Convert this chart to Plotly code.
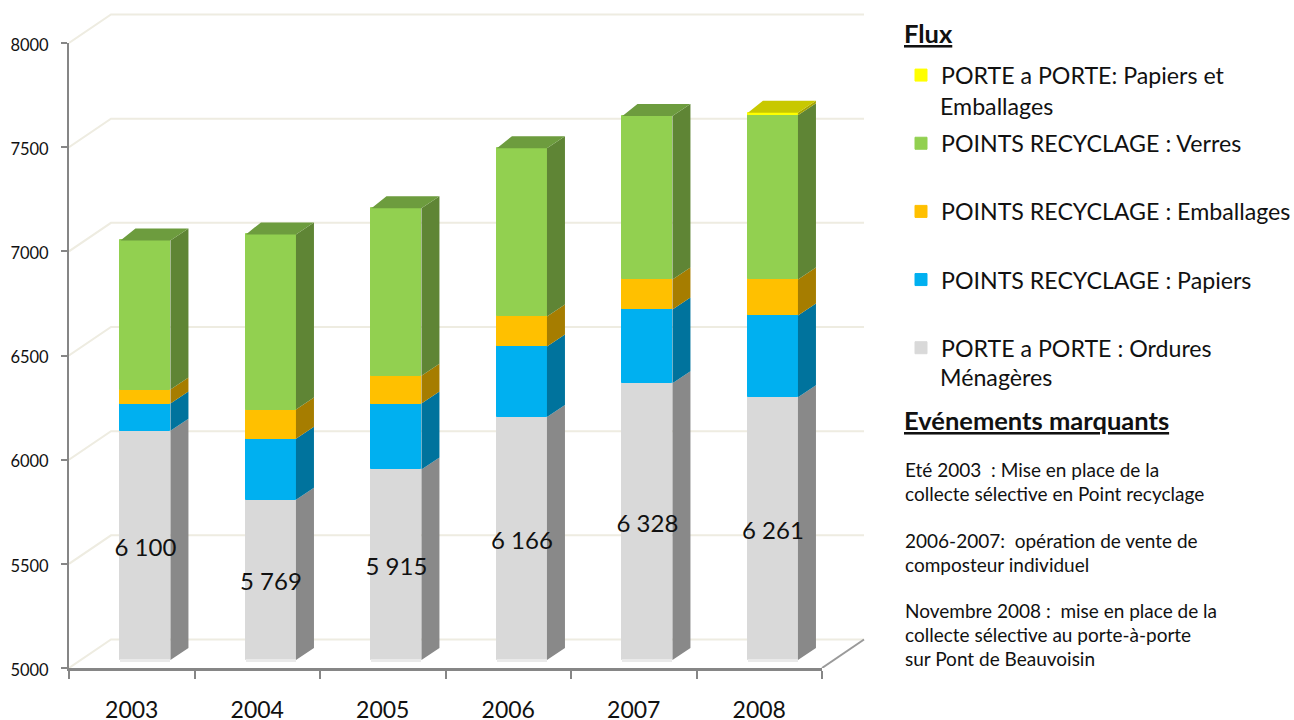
import plotly.graph_objects as go

years = ["2003", "2004", "2005", "2006", "2007", "2008"]
ordures = [6100, 5769, 5915, 6166, 6328, 6261]
papiers = [131, 293, 316, 339, 355, 393]
emballages = [67, 140, 134, 144, 144, 173]
verres = [716, 841, 803, 808, 784, 788]
pap_porte = [None, None, None, None, None, 12]

y_ticks = [5000, 5500, 6000, 6500, 7000, 7500, 8000]
AXIS_MIN, AXIS_MAX = 5000, 8000

series_names = ["PORTE a PORTE : Ordures", "POINTS RECYCLAGE : Papiers",
                "POINTS RECYCLAGE : Emballages", "POINTS RECYCLAGE : Verres",
                "PORTE a PORTE: Papiers et"]
front_colors = ["#D9D9D9", "#00B0F0", "#FFC000", "#92D050", "#FFFF00"]
side_colors = ["#898989", "#00739D", "#A67D00", "#5F8535", "#A6A600"]
top_colors = ["#A6A6A6", "#0088BB", "#C89600", "#6D9C3E", "#C8C800"]

event_lines = ["Eté 2003  : Mise en place de la", "collecte sélective en Point recyclage",
               "2006-2007:  opération de vente de", "composteur individuel",
               "Novembre 2008 :  mise en place de la", "collecte sélective au porte-à-porte",
               "sur Pont de Beauvoisin"]
event_y_px = [469, 493, 540, 564, 610, 634, 658]

# geometry (px <-> data)
W, H = 1294, 720
L, R, T, B = 69, 822, 43, 668
PX_X = (R - L) / 6
PX_Y = (B - T) / (AXIS_MAX - AXIS_MIN)
BAR_OFFSET, BAR_WIDTH = -0.09, 50 / PX_X
LIFT = 8 / PX_Y
LABEL_DROP = 4.5 / PX_Y
SIDE_DX, SIDE_DY = 18 / PX_X, 12 / PX_Y
TOP_LEFT_DX = 15 / PX_X
WALL_DX, WALL_DY = 42 / PX_X, 28.5 / PX_Y
WALL_EXTRA_R, WALL_EXTRA_T = 60, 38  # px reserved for the back wall around the plot
GRID = "#EEECE1"
AXIS = "#868686"
FONT = "Lato"
x_idx = list(range(len(years)))


def px(x):
    return x / W


def py(y):
    return 1 - y / H


fig = go.Figure()

# walls: own subplot, drawn first, wide enough to hold the receding lines
gx, gy = [], []
for t in y_ticks:
    gx += [-0.5, -0.5 + WALL_DX, 5.5 + WALL_DX, None]
    gy += [t, t + WALL_DY, t + WALL_DY, None]
fig.add_trace(go.Scatter(x=gx, y=gy, mode="lines", line=dict(color=GRID, width=2),
                         showlegend=False, hoverinfo="skip"))
fig.add_trace(go.Scatter(x=[5.5, 5.5 + WALL_DX], y=[AXIS_MIN, AXIS_MIN + WALL_DY], mode="lines",
                         line=dict(color="#9A9A9A", width=2),
                         showlegend=False, hoverinfo="skip"))

all_series = [ordures, papiers, emballages, verres, pap_porte]
bottoms = [AXIS_MIN + LIFT] * len(years)
tops_info = [None] * len(years)
side_traces = []

for s, vals in enumerate(all_series):
    base = []
    heights = []
    sx, sy = [], []
    for i, v in enumerate(vals):
        if v is None:
            base.append(None)
            heights.append(None)
            continue
        h = v - AXIS_MIN if s == 0 else v
        b0 = bottoms[i]
        t0 = b0 + h
        base.append(b0)
        heights.append(h)
        xr = i + BAR_OFFSET + BAR_WIDTH
        sx += [xr, xr, xr + SIDE_DX, xr + SIDE_DX, xr, None]
        sy += [b0, t0, t0 + SIDE_DY, b0 + SIDE_DY, b0, None]
        bottoms[i] = t0
        tops_info[i] = s
    fig.add_trace(go.Bar(x=x_idx, y=heights, base=base, offset=BAR_OFFSET, width=BAR_WIDTH,
                         name=series_names[s], legendgroup=f"g{s}", legendrank=100 - s,
                         marker=dict(color=front_colors[s], line=dict(color=front_colors[s], width=1)),
                         xaxis="x2", yaxis="y2", hoverinfo="skip"))
    side_traces.append(go.Scatter(x=sx, y=sy, mode="lines", fill="toself", fillcolor=side_colors[s],
                                  line=dict(width=0, color=side_colors[s]), xaxis="x2", yaxis="y2",
                                  cliponaxis=False, showlegend=False, hoverinfo="skip"))

# light strip at bar foot
fig.add_trace(go.Bar(x=x_idx, y=[3 / PX_Y] * 6, base=[AXIS_MIN + LIFT - 1.7 / PX_Y] * 6,
                     offset=BAR_OFFSET, width=BAR_WIDTH, marker=dict(color="#EAEAEA", line=dict(width=0)),
                     xaxis="x2", yaxis="y2", showlegend=False, hoverinfo="skip"))

for tr in side_traces:
    fig.add_trace(tr)

# top faces
for s in range(len(all_series)):
    tx, ty = [], []
    for i in x_idx:
        if tops_info[i] == s:
            xl = i + BAR_OFFSET
            xr = xl + BAR_WIDTH
            t0 = bottoms[i]
            tx += [xl, xr, xr + SIDE_DX, xl + TOP_LEFT_DX, xl, None]
            ty += [t0, t0, t0 + SIDE_DY, t0 + SIDE_DY, t0, None]
    if tx:
        fig.add_trace(go.Scatter(x=tx, y=ty, mode="lines", fill="toself", fillcolor=top_colors[s],
                                 line=dict(width=0, color=top_colors[s]), xaxis="x2", yaxis="y2",
                                 cliponaxis=False, showlegend=False, hoverinfo="skip"))

# data labels
fig.add_trace(go.Scatter(
    x=[i + BAR_OFFSET + BAR_WIDTH / 2 for i in x_idx],
    y=[AXIS_MIN + LIFT + (v - AXIS_MIN) / 2 - LABEL_DROP for v in ordures],
    text=[f"{v:,}".replace(",", " ") for v in ordures],
    mode="text", textposition="middle center",
    textfont=dict(family=FONT, size=24, color="#111111"),
    xaxis="x2", yaxis="y2", cliponaxis=False, showlegend=False, hoverinfo="skip"))

annotations = []


def note(text, x_px, y_px, size, bold=False):
    annotations.append(dict(text=f"<b><u>{text}</u></b>" if bold else text,
                            xref="paper", yref="paper", x=px(x_px), y=py(y_px),
                            xanchor="left", yanchor="middle", showarrow=False,
                            font=dict(family=FONT, size=size, color="#111111")))


note("Flux", 902, 33, 25.5, True)
note("Emballages", 938, 106, 23.2)
note("Ménagères", 938, 377, 23.2)
note("Evénements marquants", 902, 420, 25.5, True)
for line, yp in zip(event_lines, event_y_px):
    note(line, 903, yp, 19)

xrange = [-0.5, 5.5]
fig.update_layout(
    width=W, height=H, paper_bgcolor="white", plot_bgcolor="rgba(0,0,0,0)",
    margin=dict(l=0, r=0, t=0, b=0, autoexpand=False),
    barmode="overlay", bargap=0,
    xaxis=dict(domain=[px(L), px(R + WALL_EXTRA_R)], range=[-0.5, 5.5 + WALL_EXTRA_R / PX_X],
               visible=False, anchor="y"),
    yaxis=dict(domain=[py(B), py(T - WALL_EXTRA_T)],
               range=[AXIS_MIN, AXIS_MAX + WALL_EXTRA_T / PX_Y], visible=False, anchor="x"),
    xaxis2=dict(domain=[px(L), px(R)], anchor="y2", range=xrange, tickmode="array", tickvals=x_idx,
                ticktext=years, ticks="", showgrid=False, zeroline=False, showline=True,
                linecolor=AXIS, linewidth=3,
                tickfont=dict(family=FONT, size=23, color="#111111"), ticklabelstandoff=19,
                minor=dict(tick0=-0.5, dtick=1, ticks="outside", ticklen=8, tickwidth=1.5,
                           tickcolor=AXIS, showgrid=False)),
    yaxis2=dict(domain=[py(B), py(T)], anchor="x2", range=[AXIS_MIN, AXIS_MAX], tickmode="array",
                tickvals=y_ticks, ticks="outside", ticklen=6, tickwidth=1.5, tickcolor=AXIS,
                showgrid=False, zeroline=False, showline=True, linecolor=AXIS, linewidth=2,
                ticklabelstandoff=9, ticklabelshift=2,
                tickfont=dict(family=FONT, size=16.5, color="#111111")),
    legend=dict(x=px(901), y=py(53.5), xanchor="left", yanchor="top", traceorder="grouped",
                tracegroupgap=35, font=dict(family=FONT, size=23.2, color="#111111"),
                bgcolor="rgba(0,0,0,0)", borderwidth=0),
    annotations=annotations,
)

fig.write_html("out.html", config={"displayModeBar": False},
               post_script="document.body.style.margin='0';")
